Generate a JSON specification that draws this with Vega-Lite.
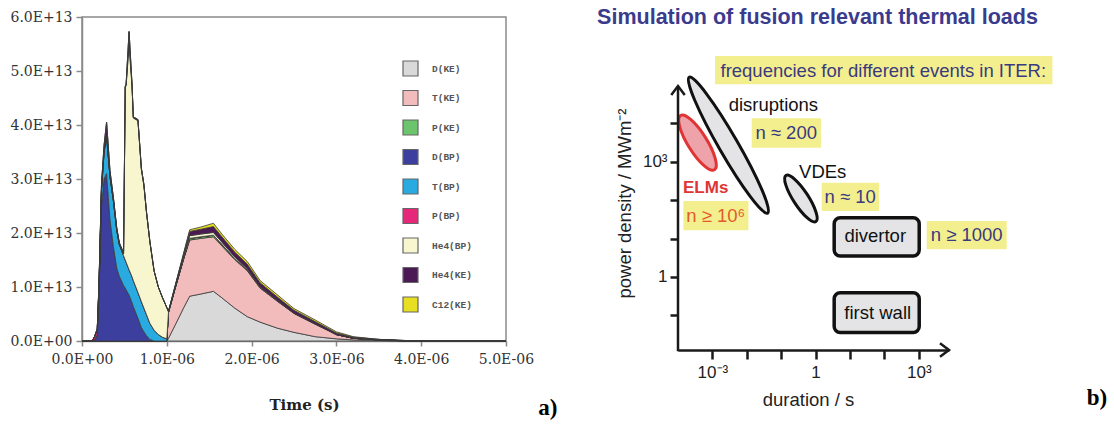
{
  "$schema": "https://vega.github.io/schema/vega-lite/v6.json",
  "background": "white",
  "padding": {"left": 9, "top": 6, "right": 4, "bottom": 4},
  "spacing": 38,
  "config": {"view": {"stroke": null}, "font": "Liberation Sans"},
  "datasets": {
    "species": [
      {"key": "DKE", "label": "D(KE)", "k": 1},
      {"key": "TKE", "label": "T(KE)", "k": 2},
      {"key": "PKE", "label": "P(KE)", "k": 3},
      {"key": "DBP", "label": "D(BP)", "k": 4},
      {"key": "TBP", "label": "T(BP)", "k": 5},
      {"key": "PBP", "label": "P(BP)", "k": 6},
      {"key": "He4BP", "label": "He4(BP)", "k": 7},
      {"key": "He4KE", "label": "He4(KE)", "k": 8},
      {"key": "C12KE", "label": "C12(KE)", "k": 9}
    ],
    "flux": [
      {"t": 0, "DKE": 0, "TKE": 0, "PKE": 0, "DBP": 0, "TBP": 0, "PBP": 0, "He4BP": 0, "He4KE": 0, "C12KE": 0},
      {"t": 0.12e-6, "DKE": 0, "TKE": 0, "PKE": 0, "DBP": 0, "TBP": 0, "PBP": 0, "He4BP": 0, "He4KE": 0, "C12KE": 0},
      {"t": 0.15e-6, "DKE": 0, "TKE": 0, "PKE": 0, "DBP": 0.02e13, "TBP": 0, "PBP": 0.07e13, "He4BP": 0, "He4KE": 0, "C12KE": 0},
      {"t": 0.18e-6, "DKE": 0, "TKE": 0, "PKE": 0, "DBP": 0.1e13, "TBP": 0.02e13, "PBP": 0.1e13, "He4BP": 0, "He4KE": 0, "C12KE": 0},
      {"t": 0.20e-6, "DKE": 0, "TKE": 0, "PKE": 0, "DBP": 0.85e13, "TBP": 0.1e13, "PBP": 0.04e13, "He4BP": 0, "He4KE": 0.05e13, "C12KE": 0},
      {"t": 0.23e-6, "DKE": 0, "TKE": 0, "PKE": 0, "DBP": 2.5e13, "TBP": 0.3e13, "PBP": 0.01e13, "He4BP": 0, "He4KE": 0.1e13, "C12KE": 0},
      {"t": 0.26e-6, "DKE": 0, "TKE": 0, "PKE": 0, "DBP": 3.0e13, "TBP": 0.5e13, "PBP": 0, "He4BP": 0, "He4KE": 0.12e13, "C12KE": 0},
      {"t": 0.29e-6, "DKE": 0, "TKE": 0, "PKE": 0, "DBP": 3.1e13, "TBP": 0.7e13, "PBP": 0, "He4BP": 0, "He4KE": 0.25e13, "C12KE": 0},
      {"t": 0.33e-6, "DKE": 0, "TKE": 0, "PKE": 0, "DBP": 2.25e13, "TBP": 0.8e13, "PBP": 0, "He4BP": 0, "He4KE": 0.1e13, "C12KE": 0},
      {"t": 0.37e-6, "DKE": 0, "TKE": 0, "PKE": 0, "DBP": 1.75e13, "TBP": 0.85e13, "PBP": 0, "He4BP": 0, "He4KE": 0.06e13, "C12KE": 0},
      {"t": 0.41e-6, "DKE": 0, "TKE": 0, "PKE": 0, "DBP": 1.35e13, "TBP": 0.7e13, "PBP": 0, "He4BP": 0, "He4KE": 0.04e13, "C12KE": 0},
      {"t": 0.44e-6, "DKE": 0, "TKE": 0, "PKE": 0, "DBP": 1.2e13, "TBP": 0.59e13, "PBP": 0, "He4BP": 0, "He4KE": 0.03e13, "C12KE": 0},
      {"t": 0.49e-6, "DKE": 0, "TKE": 0, "PKE": 0, "DBP": 1.03e13, "TBP": 0.55e13, "PBP": 0, "He4BP": 0.03e13, "He4KE": 0.02e13, "C12KE": 0},
      {"t": 0.51e-6, "DKE": 0, "TKE": 0, "PKE": 0, "DBP": 0.98e13, "TBP": 0.52e13, "PBP": 0, "He4BP": 3.2e13, "He4KE": 0.02e13, "C12KE": 0},
      {"t": 0.52e-6, "DKE": 0, "TKE": 0, "PKE": 0, "DBP": 0.95e13, "TBP": 0.51e13, "PBP": 0, "He4BP": 3.27e13, "He4KE": 0.02e13, "C12KE": 0},
      {"t": 0.555e-6, "DKE": 0, "TKE": 0, "PKE": 0, "DBP": 0.85e13, "TBP": 0.47e13, "PBP": 0, "He4BP": 4.16e13, "He4KE": 0.25e13, "C12KE": 0},
      {"t": 0.59e-6, "DKE": 0, "TKE": 0, "PKE": 0, "DBP": 0.71e13, "TBP": 0.48e13, "PBP": 0, "He4BP": 3.53e13, "He4KE": 0.03e13, "C12KE": 0},
      {"t": 0.605e-6, "DKE": 0, "TKE": 0, "PKE": 0, "DBP": 0.64e13, "TBP": 0.48e13, "PBP": 0, "He4BP": 3.01e13, "He4KE": 0.02e13, "C12KE": 0},
      {"t": 0.66e-6, "DKE": 0, "TKE": 0, "PKE": 0, "DBP": 0.42e13, "TBP": 0.48e13, "PBP": 0, "He4BP": 3.18e13, "He4KE": 0.02e13, "C12KE": 0},
      {"t": 0.70e-6, "DKE": 0, "TKE": 0, "PKE": 0, "DBP": 0.25e13, "TBP": 0.48e13, "PBP": 0, "He4BP": 2.45e13, "He4KE": 0.02e13, "C12KE": 0},
      {"t": 0.73e-6, "DKE": 0, "TKE": 0, "PKE": 0, "DBP": 0.17e13, "TBP": 0.44e13, "PBP": 0, "He4BP": 2.27e13, "He4KE": 0.02e13, "C12KE": 0},
      {"t": 0.76e-6, "DKE": 0, "TKE": 0, "PKE": 0, "DBP": 0.1e13, "TBP": 0.39e13, "PBP": 0, "He4BP": 1.9e13, "He4KE": 0.01e13, "C12KE": 0},
      {"t": 0.80e-6, "DKE": 0, "TKE": 0, "PKE": 0, "DBP": 0.03e13, "TBP": 0.3e13, "PBP": 0, "He4BP": 1.51e13, "He4KE": 0.01e13, "C12KE": 0},
      {"t": 0.85e-6, "DKE": 0, "TKE": 0, "PKE": 0, "DBP": 0, "TBP": 0.2e13, "PBP": 0, "He4BP": 1.1e13, "He4KE": 0, "C12KE": 0},
      {"t": 0.90e-6, "DKE": 0, "TKE": 0, "PKE": 0, "DBP": 0, "TBP": 0.12e13, "PBP": 0, "He4BP": 0.88e13, "He4KE": 0, "C12KE": 0},
      {"t": 0.95e-6, "DKE": 0, "TKE": 0, "PKE": 0, "DBP": 0, "TBP": 0.07e13, "PBP": 0, "He4BP": 0.73e13, "He4KE": 0, "C12KE": 0},
      {"t": 1.00e-6, "DKE": 0, "TKE": 0, "PKE": 0, "DBP": 0, "TBP": 0.04e13, "PBP": 0, "He4BP": 0.58e13, "He4KE": 0, "C12KE": 0},
      {"t": 1.02e-6, "DKE": 0.05e13, "TKE": 0.48e13, "PKE": 0, "DBP": 0, "TBP": 0.01e13, "PBP": 0, "He4BP": 0, "He4KE": 0.01e13, "C12KE": 0},
      {"t": 1.10e-6, "DKE": 0.3e13, "TKE": 0.68e13, "PKE": 0.01e13, "DBP": 0, "TBP": 0, "PBP": 0, "He4BP": 0.02e13, "He4KE": 0.02e13, "C12KE": 0},
      {"t": 1.20e-6, "DKE": 0.62e13, "TKE": 0.9e13, "PKE": 0.02e13, "DBP": 0, "TBP": 0, "PBP": 0, "He4BP": 0.04e13, "He4KE": 0.04e13, "C12KE": 0.02e13},
      {"t": 1.27e-6, "DKE": 0.83e13, "TKE": 1.04e13, "PKE": 0.03e13, "DBP": 0, "TBP": 0, "PBP": 0, "He4BP": 0.05e13, "He4KE": 0.08e13, "C12KE": 0.03e13},
      {"t": 1.40e-6, "DKE": 0.87e13, "TKE": 1.03e13, "PKE": 0.03e13, "DBP": 0, "TBP": 0, "PBP": 0, "He4BP": 0.05e13, "He4KE": 0.09e13, "C12KE": 0.04e13},
      {"t": 1.55e-6, "DKE": 0.92e13, "TKE": 1.01e13, "PKE": 0.03e13, "DBP": 0, "TBP": 0, "PBP": 0, "He4BP": 0.05e13, "He4KE": 0.11e13, "C12KE": 0.06e13},
      {"t": 1.65e-6, "DKE": 0.8e13, "TKE": 0.96e13, "PKE": 0.03e13, "DBP": 0, "TBP": 0, "PBP": 0, "He4BP": 0.04e13, "He4KE": 0.1e13, "C12KE": 0.05e13},
      {"t": 1.80e-6, "DKE": 0.61e13, "TKE": 0.9e13, "PKE": 0.02e13, "DBP": 0, "TBP": 0, "PBP": 0, "He4BP": 0.03e13, "He4KE": 0.09e13, "C12KE": 0.05e13},
      {"t": 1.95e-6, "DKE": 0.45e13, "TKE": 0.85e13, "PKE": 0.02e13, "DBP": 0, "TBP": 0, "PBP": 0, "He4BP": 0.02e13, "He4KE": 0.08e13, "C12KE": 0.05e13},
      {"t": 2.10e-6, "DKE": 0.35e13, "TKE": 0.63e13, "PKE": 0.02e13, "DBP": 0, "TBP": 0, "PBP": 0, "He4BP": 0.01e13, "He4KE": 0.07e13, "C12KE": 0.04e13},
      {"t": 2.30e-6, "DKE": 0.24e13, "TKE": 0.5e13, "PKE": 0.01e13, "DBP": 0, "TBP": 0, "PBP": 0, "He4BP": 0.01e13, "He4KE": 0.06e13, "C12KE": 0.04e13},
      {"t": 2.50e-6, "DKE": 0.16e13, "TKE": 0.35e13, "PKE": 0.01e13, "DBP": 0, "TBP": 0, "PBP": 0, "He4BP": 0, "He4KE": 0.05e13, "C12KE": 0.03e13},
      {"t": 2.75e-6, "DKE": 0.08e13, "TKE": 0.23e13, "PKE": 0.01e13, "DBP": 0, "TBP": 0, "PBP": 0, "He4BP": 0, "He4KE": 0.04e13, "C12KE": 0.03e13},
      {"t": 3.00e-6, "DKE": 0.04e13, "TKE": 0.08e13, "PKE": 0, "DBP": 0, "TBP": 0, "PBP": 0, "He4BP": 0, "He4KE": 0.03e13, "C12KE": 0.02e13},
      {"t": 3.20e-6, "DKE": 0.02e13, "TKE": 0.03e13, "PKE": 0, "DBP": 0, "TBP": 0, "PBP": 0, "He4BP": 0, "He4KE": 0.02e13, "C12KE": 0.01e13},
      {"t": 3.50e-6, "DKE": 0.01e13, "TKE": 0.01e13, "PKE": 0, "DBP": 0, "TBP": 0, "PBP": 0, "He4BP": 0, "He4KE": 0.01e13, "C12KE": 0},
      {"t": 3.80e-6, "DKE": 0, "TKE": 0.005e13, "PKE": 0, "DBP": 0, "TBP": 0, "PBP": 0, "He4BP": 0, "He4KE": 0.005e13, "C12KE": 0},
      {"t": 4.00e-6, "DKE": 0, "TKE": 0, "PKE": 0, "DBP": 0, "TBP": 0, "PBP": 0, "He4BP": 0, "He4KE": 0, "C12KE": 0},
      {"t": 5.00e-6, "DKE": 0, "TKE": 0, "PKE": 0, "DBP": 0, "TBP": 0, "PBP": 0, "He4BP": 0, "He4KE": 0, "C12KE": 0}
    ],
    "highlights": [
      {"note": "frequencies", "x1": 1.19e-3, "x2": 7.66e6, "y1": 5.66e5, "y2": 1.04e5},
      {"note": "disruptions", "x1": 0.01387, "x2": 1.435, "y1": 13490, "y2": 2316},
      {"note": "VDEs", "x1": 1.504, "x2": 69.7, "y1": 284, "y2": 52.0},
      {"note": "divertor", "x1": 1698, "x2": 3.59e5, "y1": 28.6, "y2": 5.23},
      {"note": "ELMs", "x1": 1.436e-4, "x2": 0.01114, "y1": 94.8, "y2": 16.4}
    ],
    "regions": [
      {"region": "divertor", "x1": 3.47, "x2": 1028, "y1": 34.6, "y2": 3.5},
      {"region": "first wall", "x1": 3.47, "x2": 1028, "y1": 0.385, "y2": 0.0354}
    ],
    "events": [
      {"event": "disruptions", "duration": 2.92e-3, "power": 2690},
      {"event": "ELMs", "duration": 3.69e-4, "power": 3126},
      {"event": "VDEs", "duration": 0.374, "power": 110}
    ],
    "labels": [
      {"text": "frequencies for different events in ITER:", "x": 92.9, "y": 2.30e5, "kind": "note"},
      {"text": "n ≈ 200", "x": 0.1396, "y": 5586, "kind": "note"},
      {"text": "n ≈ 10", "x": 10.1, "y": 120, "kind": "note"},
      {"text": "n ≥ 1000", "x": 24700, "y": 12.2, "kind": "note"},
      {"text": "n ≥ 10⁶", "x": 1.247e-3, "y": 39.7, "kind": "elmnote"},
      {"text": "ELMs", "x": 6.38e-4, "y": 206.6, "kind": "elm"},
      {"text": "disruptions", "x": 0.0593, "y": 30000, "kind": "event"},
      {"text": "VDEs", "x": 1.607, "y": 539, "kind": "event"},
      {"text": "divertor", "x": 54.1, "y": 11.3, "kind": "event"},
      {"text": "first wall", "x": 63.9, "y": 0.117, "kind": "event"}
    ],
    "axisline": [
      {"x": 1e-4, "y": 0.0115, "y2": 93600}
    ],
    "arrows": [
      {"end": "y", "x": 1e-4, "y": 93600},
      {"end": "x", "x": 7550, "y": 0.01248}
    ]
  },
  "hconcat": [
    {
      "width": 424,
      "height": 324,
      "view": {"stroke": "#8a8a8a", "strokeWidth": 1.5},
      "layer": [
        {
          "data": {"name": "flux"},
          "transform": [
            {"fold": ["DKE", "TKE", "PKE", "DBP", "TBP", "PBP", "He4BP", "He4KE", "C12KE"], "as": ["key", "value"]},
            {"lookup": "key", "from": {"data": {"name": "species"}, "key": "key", "fields": ["label", "k"]}}
          ],
          "mark": {"type": "area", "interpolate": "linear", "stroke": "#3a3a3a", "strokeWidth": 0.8, "opacity": 1},
          "encoding": {
            "x": {
              "field": "t", "type": "quantitative",
              "scale": {"domain": [0, 5e-6], "nice": false, "zero": false},
              "axis": {
                "values": [0, 1e-6, 2e-6, 3e-6, 4e-6, 5e-6],
                "labelExpr": "datum.value == 0 ? '0.0E+00' : replace(upper(format(datum.value, '.1e')), 'E-6', 'E-06')",
                "title": "Time (s)", "titleFont": "DejaVu Serif", "titleFontWeight": "bold", "titleFontSize": 15, "titleColor": "#222",
                "titleX": 222, "titleY": 63, "titleBaseline": "middle", "titleAlign": "center",
                "labelFont": "DejaVu Serif", "labelFontSize": 14, "labelColor": "#333", "labelPadding": 6, "labelFlush": false,
                "domainColor": "#8a8a8a", "domainWidth": 1.5, "tickColor": "#8a8a8a", "tickWidth": 1.5, "tickSize": 5, "grid": false
              }
            },
            "y": {
              "field": "value", "type": "quantitative", "stack": "zero",
              "scale": {"domain": [0, 6e13], "nice": false},
              "axis": {
                "values": [0, 1e13, 2e13, 3e13, 4e13, 5e13, 6e13],
                "labelExpr": "datum.value == 0 ? '0.0E+00' : upper(format(datum.value, '.1e'))",
                "title": null,
                "labelFont": "DejaVu Serif", "labelFontSize": 14, "labelColor": "#333", "labelPadding": 4, "labelFlush": false,
                "domainColor": "#8a8a8a", "domainWidth": 1.5, "tickColor": "#8a8a8a", "tickWidth": 1.5, "tickSize": 6, "grid": false
              }
            },
            "color": {
              "field": "label", "type": "nominal",
              "scale": {
                "domain": ["D(KE)", "T(KE)", "P(KE)", "D(BP)", "T(BP)", "P(BP)", "He4(BP)", "He4(KE)", "C12(KE)"],
                "range": ["#d9d9d9", "#f2bcbc", "#6cc46c", "#3d3f9f", "#29aae1", "#e6287a", "#f8f6cf", "#4b1a55", "#e6df22"]
              },
              "legend": {
                "title": null, "orient": "none", "legendX": 320, "legendY": 43, "padding": 0,
                "symbolType": "square", "symbolSize": 225, "symbolStrokeColor": "#666", "symbolStrokeWidth": 1.2, "symbolOpacity": 1,
                "labelFont": "Liberation Mono", "labelFontSize": 9.5, "labelFontWeight": "bold", "labelColor": "#555",
                "labelOffset": 13, "rowPadding": 8.5
              }
            },
            "order": {"field": "k", "type": "quantitative"}
          }
        },
        {
          "data": {"values": [{"panel": "a)", "t": 5.38e-6, "value": -1.376e13}]},
          "mark": {"type": "text", "font": "Liberation Serif", "fontWeight": "bold", "fontSize": 23, "align": "left", "baseline": "alphabetic", "color": "#000"},
          "encoding": {
            "x": {"field": "t", "type": "quantitative"},
            "y": {"field": "value", "type": "quantitative"},
            "text": {"field": "panel"}
          }
        }
      ]
    },
    {
      "width": 271,
      "height": 333,
      "title": {"text": "Simulation of fusion relevant thermal loads", "font": "Liberation Sans", "fontSize": 21.5, "fontWeight": "bold", "color": "#3b3b8e", "anchor": "middle", "frame": "group", "offset": -11, "dx": 4},
      "layer": [
        {
          "data": {"name": "highlights"},
          "mark": {"type": "rect", "fill": "#f3ef8f", "stroke": null},
          "encoding": {
            "x": {
              "field": "x1", "type": "quantitative",
              "scale": {"type": "log", "domain": [1e-4, 7550], "nice": false},
              "axis": {
                "values": [1e-3, 1e-2, 1e-1, 1, 10, 100, 1000],
                "labelExpr": "datum.value == 1 ? '1' : (datum.value > 0.0005 && datum.value < 0.005) ? '10⁻³' : datum.value > 500 ? '10³' : ''",
                "title": "duration / s", "titleFont": "Liberation Sans", "titleFontSize": 18.5, "titleFontWeight": "normal", "titleColor": "#222",
                "titleX": 130, "titleY": 49, "titleBaseline": "middle", "titleAlign": "center",
                "labelFont": "Liberation Sans", "labelFontSize": 17, "labelColor": "#222", "labelPadding": 5, "labelFlush": false, "labelOverlap": false,
                "domainColor": "#1a1a1a", "domainWidth": 2.5, "tickColor": "#1a1a1a", "tickWidth": 2.5, "tickSize": 9, "grid": false, "zindex": 1
              }
            },
            "x2": {"field": "x2"},
            "y": {
              "field": "y1", "type": "quantitative",
              "scale": {"type": "log", "domain": [0.01248, 5.87e6], "nice": false},
              "axis": {
                "values": [0.1, 1, 10, 100, 1000, 10000],
                "labelExpr": "datum.value == 1 ? '1' : (datum.value > 500 && datum.value < 5000) ? '10³' : ''",
                "title": "power density / MWm⁻²", "titleFont": "Liberation Sans", "titleFontSize": 18.5, "titleFontWeight": "normal", "titleColor": "#222",
                "titleX": -54, "titleY": 186, "titleAngle": -90, "titleBaseline": "middle", "titleAlign": "center",
                "labelFont": "Liberation Sans", "labelFontSize": 17, "labelColor": "#222", "labelPadding": 3, "labelOverlap": false, "labelFlush": false,
                "domain": false, "tickColor": "#1a1a1a", "tickWidth": 2.5, "tickSize": 8, "grid": false, "zindex": 1
              }
            },
            "y2": {"field": "y2"}
          }
        },
        {
          "data": {"name": "events"},
          "transform": [{"filter": "datum.event == 'disruptions'"}],
          "mark": {"type": "point", "shape": "M-1,0A1,0.121,0,1,0,1,0A1,0.121,0,1,0,-1,0Z", "size": 24649, "angle": 60, "filled": true, "fill": "#e4e4e7", "stroke": "#111", "strokeWidth": 3, "opacity": 1},
          "encoding": {"x": {"field": "duration", "type": "quantitative"}, "y": {"field": "power", "type": "quantitative"}}
        },
        {
          "data": {"name": "events"},
          "transform": [{"filter": "datum.event == 'ELMs'"}],
          "mark": {"type": "point", "shape": "M-1,0A1,0.297,0,1,0,1,0A1,0.297,0,1,0,-1,0Z", "size": 4096, "angle": 58, "filled": true, "fill": "#eea3ab", "stroke": "#e03535", "strokeWidth": 3, "opacity": 1},
          "encoding": {"x": {"field": "duration", "type": "quantitative"}, "y": {"field": "power", "type": "quantitative"}}
        },
        {
          "data": {"name": "events"},
          "transform": [{"filter": "datum.event == 'VDEs'"}],
          "mark": {"type": "point", "shape": "M-1,0A1,0.273,0,1,0,1,0A1,0.273,0,1,0,-1,0Z", "size": 3025, "angle": 57, "filled": true, "fill": "#e4e4e7", "stroke": "#111", "strokeWidth": 3, "opacity": 1},
          "encoding": {"x": {"field": "duration", "type": "quantitative"}, "y": {"field": "power", "type": "quantitative"}}
        },
        {
          "data": {"name": "regions"},
          "mark": {"type": "rect", "fill": "#e4e4e6", "stroke": "#111", "strokeWidth": 3.5, "cornerRadius": 6},
          "encoding": {
            "x": {"field": "x1", "type": "quantitative"}, "x2": {"field": "x2"},
            "y": {"field": "y1", "type": "quantitative"}, "y2": {"field": "y2"}
          }
        },
        {
          "data": {"name": "labels"},
          "transform": [{"filter": "datum.kind == 'note'"}],
          "mark": {"type": "text", "font": "Liberation Sans", "fontSize": 18.5, "color": "#3a3a7e", "align": "center", "baseline": "middle"},
          "encoding": {"x": {"field": "x", "type": "quantitative"}, "y": {"field": "y", "type": "quantitative"}, "text": {"field": "text"}}
        },
        {
          "data": {"name": "labels"},
          "transform": [{"filter": "datum.kind == 'elmnote'"}],
          "mark": {"type": "text", "font": "Liberation Sans", "fontSize": 18.5, "color": "#e35a2a", "align": "center", "baseline": "middle"},
          "encoding": {"x": {"field": "x", "type": "quantitative"}, "y": {"field": "y", "type": "quantitative"}, "text": {"field": "text"}}
        },
        {
          "data": {"name": "labels"},
          "transform": [{"filter": "datum.kind == 'elm'"}],
          "mark": {"type": "text", "font": "Liberation Sans", "fontSize": 17, "fontWeight": "bold", "color": "#e03535", "align": "center", "baseline": "middle"},
          "encoding": {"x": {"field": "x", "type": "quantitative"}, "y": {"field": "y", "type": "quantitative"}, "text": {"field": "text"}}
        },
        {
          "data": {"name": "labels"},
          "transform": [{"filter": "datum.kind == 'event'"}],
          "mark": {"type": "text", "font": "Liberation Sans", "fontSize": 18.5, "color": "#111", "align": "center", "baseline": "middle"},
          "encoding": {"x": {"field": "x", "type": "quantitative"}, "y": {"field": "y", "type": "quantitative"}, "text": {"field": "text"}}
        },
        {
          "data": {"name": "axisline"},
          "mark": {"type": "rule", "stroke": "#1a1a1a", "strokeWidth": 2.5},
          "encoding": {"x": {"field": "x", "type": "quantitative"}, "y": {"field": "y", "type": "quantitative"}, "y2": {"field": "y2"}}
        },
        {
          "data": {"name": "arrows"},
          "transform": [{"filter": "datum.end == 'y'"}],
          "mark": {"type": "point", "shape": "M-0.75,1L0,0L0.75,1", "size": 324, "filled": false, "stroke": "#1a1a1a", "strokeWidth": 2.5, "opacity": 1},
          "encoding": {"x": {"field": "x", "type": "quantitative"}, "y": {"field": "y", "type": "quantitative"}}
        },
        {
          "data": {"name": "arrows"},
          "transform": [{"filter": "datum.end == 'x'"}],
          "mark": {"type": "point", "shape": "M-1,-0.75L0,0L-1,0.75", "size": 324, "filled": false, "stroke": "#1a1a1a", "strokeWidth": 2.5, "opacity": 1},
          "encoding": {"x": {"field": "x", "type": "quantitative"}, "y": {"field": "y", "type": "quantitative"}}
        },
        {
          "data": {"values": [{"panel": "b)", "x": 7.6e7, "y": 4.61e-4}]},
          "mark": {"type": "text", "font": "Liberation Serif", "fontWeight": "bold", "fontSize": 23, "align": "left", "baseline": "alphabetic", "color": "#000"},
          "encoding": {"x": {"field": "x", "type": "quantitative"}, "y": {"field": "y", "type": "quantitative"}, "text": {"field": "panel"}}
        }
      ]
    }
  ]
}
